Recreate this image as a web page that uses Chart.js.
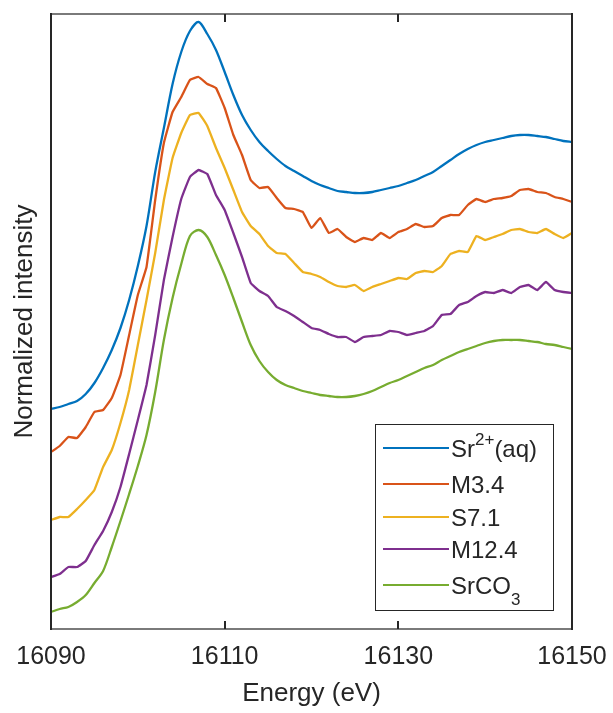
<!DOCTYPE html>
<html>
<head>
<meta charset="utf-8">
<title>Sr K-edge XANES</title>
<script src="https://cdn.jsdelivr.net/npm/chart.js@4.4.1/dist/chart.umd.min.js"></script>
<style>
    html, body { margin: 0; padding: 0; background: #fff; }
    #wrap { width: 613px; height: 713px; }
</style>
</head>
<body>
<div id="wrap"><canvas id="xanesChart" width="613" height="713"></canvas></div>
<script>
// Values (stacked, normalized intensity, arbitrary offset)
const energy = [
    16090, 16091, 16092, 16093, 16094, 16095, 16096, 16097, 16098, 16099,
    16100, 16101, 16102, 16103, 16104, 16105, 16106, 16107, 16108, 16109,
    16110, 16111, 16112, 16113, 16114, 16115, 16116, 16117, 16118, 16119,
    16120, 16121, 16122, 16123, 16124, 16125, 16126, 16127, 16128, 16129,
    16130, 16131, 16132, 16133, 16134, 16135, 16136, 16137, 16138, 16139,
    16140, 16141, 16142, 16143, 16144, 16145, 16146, 16147, 16148, 16149,
    16150
];

const srAq = [
    2.20, 2.22, 2.25, 2.28, 2.35, 2.46, 2.61, 2.79, 3.01, 3.29,
    3.63, 4.03, 4.57, 5.01, 5.45, 5.77, 5.98, 6.07, 5.95, 5.79,
    5.57, 5.34, 5.14, 4.99, 4.87, 4.78, 4.70, 4.63, 4.58, 4.53,
    4.48, 4.44, 4.41, 4.38, 4.37, 4.36, 4.36, 4.37, 4.39, 4.41,
    4.43, 4.46, 4.49, 4.53, 4.57, 4.63, 4.69, 4.75, 4.80, 4.84,
    4.87, 4.89, 4.91, 4.93, 4.94, 4.94, 4.93, 4.92, 4.90, 4.88,
    4.87
];

const m34 = [
    1.77, 1.83, 1.92, 1.91, 2.02, 2.17, 2.19, 2.31, 2.54, 2.94,
    3.34, 3.62, 4.29, 4.86, 5.17, 5.32, 5.49, 5.52, 5.45, 5.41,
    5.21, 4.94, 4.74, 4.49, 4.41, 4.42, 4.31, 4.21, 4.20, 4.17,
    4.01, 4.11, 3.96, 4.00, 3.92, 3.87, 3.91, 3.89, 3.96, 3.91,
    3.97, 4.00, 4.05, 4.02, 4.03, 4.11, 4.14, 4.14, 4.24, 4.30,
    4.27, 4.30, 4.31, 4.33, 4.39, 4.40, 4.37, 4.36, 4.32, 4.30,
    4.27
];

const s71 = [
    1.09, 1.12, 1.12, 1.20, 1.29, 1.39, 1.62, 1.79, 2.06, 2.39,
    2.84, 3.29, 3.76, 4.29, 4.71, 4.96, 5.14, 5.16, 5.03, 4.81,
    4.61, 4.39, 4.17, 4.03, 3.95, 3.83, 3.76, 3.75, 3.66, 3.57,
    3.55, 3.52, 3.47, 3.43, 3.42, 3.44, 3.38, 3.42, 3.45, 3.48,
    3.51, 3.50, 3.56, 3.58, 3.57, 3.63, 3.75, 3.78, 3.77, 3.93,
    3.89, 3.92, 3.95, 3.99, 4.00, 3.97, 3.96, 4.00, 3.95, 3.91,
    3.96
];

const m124 = [
    0.52, 0.55, 0.62, 0.62, 0.68, 0.84, 0.98, 1.17, 1.42, 1.75,
    2.09, 2.44, 2.94, 3.49, 3.92, 4.30, 4.52, 4.59, 4.55, 4.34,
    4.19, 3.96, 3.72, 3.46, 3.38, 3.33, 3.22, 3.18, 3.13, 3.07,
    3.01, 2.99, 2.95, 2.92, 2.92, 2.87, 2.92, 2.93, 2.94, 2.98,
    2.97, 2.94, 2.96, 2.98, 3.03, 3.14, 3.15, 3.24, 3.27, 3.33,
    3.37, 3.36, 3.39, 3.36, 3.42, 3.44, 3.39, 3.47, 3.39, 3.37,
    3.36
];

const srCO3 = [
    0.17, 0.20, 0.22, 0.27, 0.34, 0.46, 0.58, 0.82, 1.08, 1.35,
    1.63, 1.94, 2.37, 2.89, 3.31, 3.65, 3.93, 3.99, 3.92, 3.74,
    3.54, 3.31, 3.07, 2.84, 2.68, 2.57, 2.49, 2.44, 2.41, 2.38,
    2.36, 2.34, 2.33, 2.32, 2.32, 2.33, 2.35, 2.38, 2.42, 2.46,
    2.49, 2.53, 2.57, 2.61, 2.64, 2.69, 2.73, 2.77, 2.80, 2.83,
    2.86, 2.88, 2.89, 2.89, 2.89, 2.88, 2.87, 2.85, 2.84, 2.82,
    2.80
];

// labels use TeX-like markup for super/subscripts, like the original figure
const seriesLabels = ['Sr^{2+}(aq)', 'M3.4', 'S7.1', 'M12.4', 'SrCO_{3}'];
const seriesValues = [srAq, m34, s71, m124, srCO3];
const seriesColors = ['#0072BD', '#D95319', '#EDB120', '#7E2F8E', '#77AC30'];
const seriesTension = [0.3, 0.1, 0.1, 0.1, 0.3];
const xTicks = [16090, 16110, 16130, 16150];

const FONT = "'Liberation Sans', Arial, Helvetica, sans-serif";
const AXIS_COLOR = '#262626';

// draws the box round the axes and the inward tick marks (MATLAB style)
const axesBoxPlugin = {
    id: 'axesBox',
    afterDatasetsDraw(chart) {
        const { ctx, chartArea: a } = chart;
        const xs = chart.scales.x;
        ctx.save();
        ctx.lineWidth = 2;
        ctx.strokeStyle = '#7a7a7a';
        ctx.beginPath();
        ctx.moveTo(a.left, a.top);
        ctx.lineTo(a.right, a.top);
        ctx.moveTo(a.left, a.bottom);
        ctx.lineTo(a.right, a.bottom);
        ctx.stroke();

        ctx.strokeStyle = AXIS_COLOR;
        ctx.beginPath();
        ctx.moveTo(a.left, a.top - 1);
        ctx.lineTo(a.left, a.bottom + 1);
        ctx.moveTo(a.right, a.top - 1);
        ctx.lineTo(a.right, a.bottom + 1);
        xTicks.forEach(t => {
            const px = Math.round(xs.getPixelForValue(t));
            if (px <= a.left + 2 || px >= a.right - 2) return;
            ctx.moveTo(px, a.bottom);
            ctx.lineTo(px, a.bottom - 8);
            ctx.moveTo(px, a.top);
            ctx.lineTo(px, a.top + 8);
        });
        ctx.stroke();
        ctx.restore();
    }
};

// split 'Sr^{2+}(aq)' into normal / super / sub pieces
function parseLabel(label) {
    return label.split(/(\^\{[^}]*\}|_\{[^}]*\})/).filter(s => s.length).map(s => {
        if (s.startsWith('^{')) return { text: s.slice(2, -1), kind: 'sup' };
        if (s.startsWith('_{')) return { text: s.slice(2, -1), kind: 'sub' };
        return { text: s, kind: 'normal' };
    });
}

// legend box in the lower right corner, drawn by hand for the sub/superscripts
const texLegendPlugin = {
    id: 'texLegend',
    afterDraw(chart) {
        const { ctx } = chart;
        const box = { x: 375.5, y: 424.5, w: 178, h: 186 };
        const rowY = [448, 484, 517, 549, 585];
        ctx.save();
        ctx.fillStyle = '#fff';
        ctx.fillRect(box.x, box.y, box.w, box.h);
        ctx.strokeStyle = AXIS_COLOR;
        ctx.lineWidth = 1;
        ctx.strokeRect(box.x, box.y, box.w, box.h);

        chart.data.datasets.forEach((ds, i) => {
            const y = rowY[i];
            ctx.strokeStyle = ds.borderColor;
            ctx.lineWidth = 2.2;
            ctx.beginPath();
            ctx.moveTo(383, y);
            ctx.lineTo(449, y);
            ctx.stroke();

            let x = 451;
            const base = y + 9;
            ctx.fillStyle = AXIS_COLOR;
            ctx.textBaseline = 'alphabetic';
            ctx.textAlign = 'left';
            parseLabel(seriesLabels[i]).forEach(p => {
                let dy = 0;
                if (p.kind === 'normal') {
                    ctx.font = `24px ${FONT}`;
                } else {
                    ctx.font = `17px ${FONT}`;
                    dy = p.kind === 'sup' ? -12 : 11;
                }
                ctx.fillText(p.text, x, base + dy);
                x += ctx.measureText(p.text).width;
            });
        });
        ctx.restore();
    }
};

const datasets = seriesLabels.map((label, i) => ({
    label: label.replace(/[\^_]\{([^}]*)\}/g, '$1'),
    data: energy.map((e, j) => ({ x: e, y: seriesValues[i][j] })),
    borderColor: seriesColors[i],
    backgroundColor: seriesColors[i],
    borderWidth: 2.3,
    pointRadius: 0,
    tension: seriesTension[i],
    fill: false
}));

new Chart(document.getElementById('xanesChart'), {
    type: 'line',
    data: { datasets },
    options: {
        responsive: false,
        animation: false,
        devicePixelRatio: 1,
        layout: { padding: { left: 0, top: 14, right: 41, bottom: 0 } },
        plugins: {
            legend: { display: false },
            tooltip: { enabled: false }
        },
        scales: {
            x: {
                type: 'linear',
                min: 16090,
                max: 16150,
                afterBuildTicks: s => { s.ticks = xTicks.map(v => ({ value: v })); },
                afterFit: s => {
                    s.height = 84;
                    s.paddingLeft = 0;
                    s.paddingRight = 0;
                },
                ticks: {
                    color: AXIS_COLOR,
                    padding: 13,
                    maxRotation: 0,
                    font: { size: 25, family: FONT },
                    callback: v => String(v)
                },
                grid: { display: false, drawTicks: false },
                border: { display: false },
                title: {
                    display: true,
                    text: 'Energy (eV)',
                    color: AXIS_COLOR,
                    font: { size: 26, family: FONT },
                    padding: { top: 0, bottom: 4 }
                }
            },
            y: {
                min: 0,
                max: 6.15,
                afterFit: s => {
                    s.width = 51;
                    s.paddingTop = 0;
                    s.paddingBottom = 0;
                },
                ticks: { display: false },
                grid: { display: false, drawTicks: false },
                border: { display: false },
                title: {
                    display: true,
                    text: 'Normalized intensity',
                    color: AXIS_COLOR,
                    font: { size: 26, family: FONT },
                    padding: { top: 9, bottom: 0 }
                }
            }
        }
    },
    plugins: [axesBoxPlugin, texLegendPlugin]
});
</script>
</body>
</html>
